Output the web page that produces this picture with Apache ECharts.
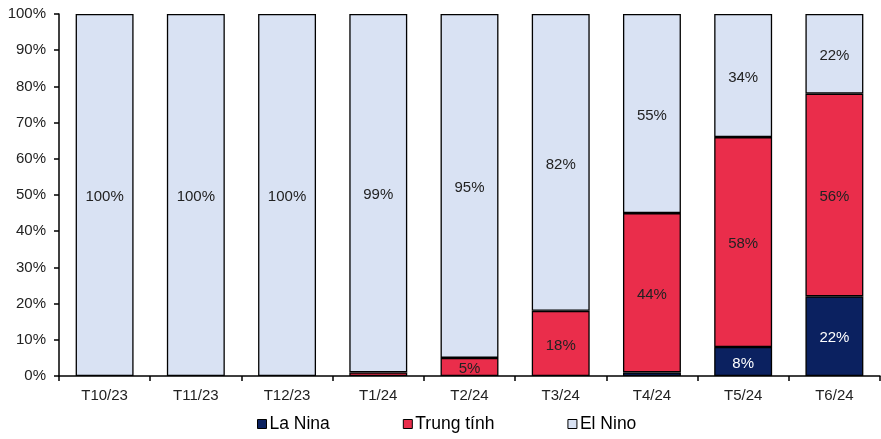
<!DOCTYPE html>
<html>
<head>
<meta charset="utf-8">
<script src="https://cdn.jsdelivr.net/npm/echarts@6/dist/echarts.min.js"></script>
<style>
  html, body { margin: 0; padding: 0; background: #fff; }
  #chart { width: 881px; height: 439px; }
</style>
</head>
<body>
<div id="chart"></div>
<script>
// ENSO phase probabilities by month (%)
const months = ['T10/23', 'T11/23', 'T12/23', 'T1/24', 'T2/24', 'T3/24', 'T4/24', 'T5/24', 'T6/24'];
const laNina = [0, 0, 0, 0, 0, 0, 1, 8, 22];
const trungTinh = [0, 0, 0, 1, 5, 18, 44, 58, 56];
const elNino = [100, 100, 100, 99, 95, 82, 55, 34, 22];
const yTicks = ['0%', '10%', '20%', '30%', '40%', '50%', '60%', '70%', '80%', '90%', '100%'];

const FONT = 'Liberation Sans, Arial, sans-serif';

// very small segments stay unlabeled
function labelFmt(p) {
  return p.value >= 2 ? p.value + '%' : '';
}

function makeSeries(name, data, color, textColor) {
  return {
    name: name,
    type: 'bar',
    stack: 'total',
    // zero shares draw nothing (no outline at the baseline)
    data: data.map(v => (v === 0 ? null : v)),
    barWidth: '63.5%',
    itemStyle: { color: color, borderColor: '#000', borderWidth: 1.3 },
    label: {
      show: true,
      position: 'inside',
      offset: [0, 2],
      formatter: labelFmt,
      color: textColor,
      fontFamily: FONT,
      fontSize: 15
    },
    emphasis: { disabled: true }
  };
}

const chart = echarts.init(document.getElementById('chart'), null, { renderer: 'canvas' });
chart.setOption({
  animation: false,
  grid: { left: 59, right: 1, top: 14, bottom: 63, containLabel: false },
  legend: {
    bottom: 1,
    left: 252,
    itemGap: 73,
    itemWidth: 9,
    itemHeight: 9,
    icon: 'rect',
    textStyle: { fontFamily: FONT, fontSize: 17.5, color: '#000', padding: [0, 0, 0, -2] },
    data: [
      { name: 'La Nina', itemStyle: { borderColor: '#000', borderWidth: 1 } },
      { name: 'Trung tính', itemStyle: { borderColor: '#000', borderWidth: 1 } },
      { name: 'El Nino', itemStyle: { borderColor: '#000', borderWidth: 1 } }
    ]
  },
  xAxis: {
    type: 'category',
    data: months,
    axisLine: { lineStyle: { color: '#000', width: 1.5 } },
    axisTick: { show: true, length: 5, lineStyle: { color: '#000', width: 1.5 } },
    axisLabel: { fontFamily: FONT, fontSize: 15, color: '#222', margin: 12 }
  },
  yAxis: {
    type: 'value',
    min: 0,
    max: 100,
    interval: 10,
    axisLine: { show: true, lineStyle: { color: '#000', width: 1.5 } },
    axisTick: { show: true, length: 5, lineStyle: { color: '#000', width: 1.5 } },
    splitLine: { show: false },
    axisLabel: {
      fontFamily: FONT, fontSize: 15, color: '#222', margin: 13,
      formatter: function (v) { return yTicks[Math.round(v / 10)]; }
    }
  },
  series: [
    makeSeries('La Nina', laNina, '#0B2160', '#fff'),
    makeSeries('Trung tính', trungTinh, '#EA2D4B', '#222'),
    makeSeries('El Nino', elNino, '#D9E2F3', '#222')
  ]
});
</script>
</body>
</html>
